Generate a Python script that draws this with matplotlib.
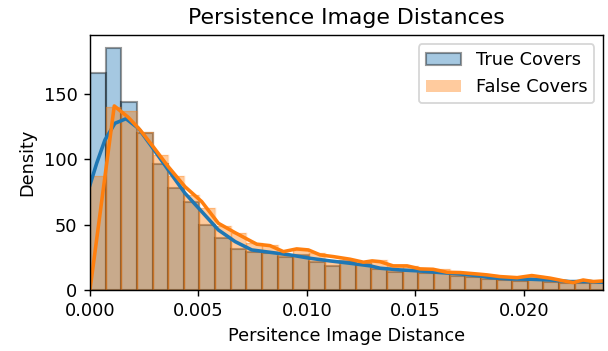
import matplotlib
matplotlib.use('Agg')
import matplotlib.pyplot as plt
import numpy as np

# histogram bins (density)
bin_width   = 0.000721
true_hist   = [166, 185, 144, 120, 96, 78, 67, 50, 40, 31, 29, 28.5, 25.5, 27, 21.7,
               18.6, 22, 19.5, 15.8, 13.5, 15.3, 13.3, 12.7, 11, 9.7, 8.4, 7.6, 7.1,
               7.6, 6.4, 5.1, 5.6, 5.1]
false_hist  = [87, 140, 137, 121, 103, 87, 73, 62.5, 49, 43.4, 36, 34.4, 26.8, 30.6, 28,
               23, 21.7, 20.9, 23, 18, 18.6, 15.8, 15.8, 13.3, 12, 11.5, 10.2, 9,
               10.7, 8.2, 6.4, 7.6, 7]

# kde curves
true_kde_x  = [0, 0.00031, 0.00069, 0.00115, 0.00166, 0.00223, 0.00285, 0.00361,
               0.00438, 0.00515, 0.00592, 0.00669, 0.00746, 0.00830, 0.00922, 0.01015,
               0.01107, 0.01199, 0.01292, 0.01338, 0.01430, 0.01522, 0.01614, 0.01707,
               0.01799, 0.01845, 0.01937, 0.02030, 0.02122, 0.02214, 0.02306, 0.02366]
true_kde_y  = [80.3, 97, 114.8, 127.5, 131, 123.7, 109.6, 91.8, 74, 60, 45.9, 37, 30.6,
               28.8, 26.8, 24.2, 22.2, 20.4, 18.4, 16.6, 15.3, 14.5, 13.3, 12.2, 10.7,
               9.4, 8.4, 8.2, 7.6, 6.4, 6.4, 5.9]
false_kde_x = [0, 0.00112, 0.00177, 0.00231, 0.00285, 0.00361, 0.00438, 0.00515,
               0.00592, 0.00669, 0.00746, 0.00769, 0.00830, 0.00892, 0.00953, 0.01007,
               0.01061, 0.01122, 0.01199, 0.01261, 0.01301, 0.01338, 0.01398, 0.01462,
               0.01522, 0.01582, 0.01647, 0.01707, 0.01799, 0.01831, 0.01891, 0.01970,
               0.02037, 0.02122, 0.02200, 0.02228, 0.02274, 0.02320, 0.02366]
false_kde_y = [0, 140.8, 132, 122.4, 111, 94.3, 79, 67.6, 51, 43.8, 37, 35, 33.9, 29.3,
               31.4, 30.6, 26.8, 25.5, 23.5, 21.2, 22.2, 21.6, 18.4, 18.4, 16.1, 15.8,
               13.5, 13.3, 12, 11.5, 10.2, 9.4, 11, 9, 6.4, 5.6, 7.6, 6.4, 6.9]

edges = np.arange(len(true_hist)) * bin_width

fig = plt.figure(figsize=(608/128, 351/128), dpi=128)
ax = fig.add_axes([0.148, 0.174, 0.844, 0.726])

ax.bar(edges, true_hist, width=bin_width, align='edge', color='C0', alpha=0.4,
       edgecolor='k', linewidth=1.2, label='True Covers')
ax.bar(edges, false_hist, width=bin_width, align='edge', color='C1', alpha=0.4,
       edgecolor='none', label='False Covers')
# thin orange dividers between the orange bars
ax.bar(edges, false_hist, width=bin_width, align='edge', fill=False,
       edgecolor='C1', alpha=0.3, linewidth=0.8)
ax.plot(true_kde_x, true_kde_y, color='C0', lw=2)
ax.plot(false_kde_x, false_kde_y, color='C1', lw=2)

ax.set_xlim(0, 0.02366)
ax.set_ylim(0, 195)
ax.set_xticks([0, 0.005, 0.010, 0.015, 0.020])
ax.set_xticklabels(['0.000', '0.005', '0.010', '0.015', '0.020'])
ax.set_yticks([0, 50, 100, 150])
ax.set_xlabel('Persitence Image Distance')
ax.set_ylabel('Density')
ax.set_title('Persistence Image Distances', fontsize=12.4)
ax.legend(loc='upper right')

fig.savefig('out.png', dpi=128)
